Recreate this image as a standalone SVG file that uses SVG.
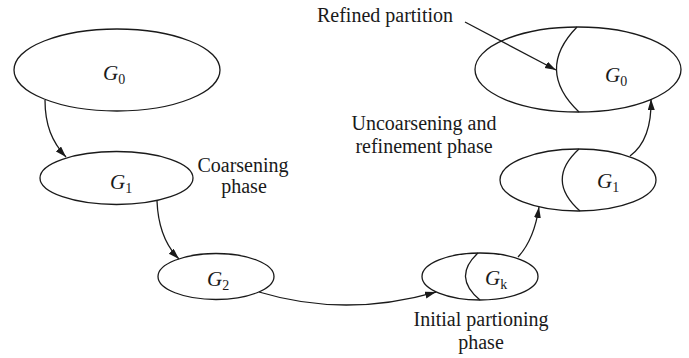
<svg xmlns="http://www.w3.org/2000/svg" width="689" height="358" viewBox="0 0 689 358">
<style>
.n{fill:none;stroke:#1a1a1a;stroke-width:1.3}
.c{fill:none;stroke:#1a1a1a;stroke-width:1.3}
.t{font-family:"Liberation Serif","Times New Roman",serif;font-size:20px;fill:#1a1a1a;text-anchor:middle}
.g{font-family:"Liberation Serif","Times New Roman",serif;font-size:21px;fill:#1a1a1a}
.g .i{font-style:italic}
.g .s{font-size:14px}
</style>
<defs>
<marker id="ah" markerUnits="userSpaceOnUse" markerWidth="12" markerHeight="8" refX="11" refY="3.5" orient="auto">
<path d="M0,0 L11,3.5 L0,7 Z" fill="#1a1a1a"/>
</marker>
</defs>
<rect width="689" height="358" fill="#fff"/>
<g id="left-G0">
<ellipse class="n" cx="117" cy="70" rx="103" ry="41"/>
<text class="g" x="103" y="80"><tspan class="i">G</tspan><tspan class="s" dy="4">0</tspan></text>
</g>
<g id="left-G1">
<ellipse class="n" cx="116.5" cy="178" rx="76.5" ry="26.5"/>
<text class="g" x="110" y="189"><tspan class="i">G</tspan><tspan class="s" dy="4">1</tspan></text>
</g>
<g id="G2">
<ellipse class="n" cx="216" cy="276.5" rx="58" ry="23"/>
<text class="g" x="207" y="286"><tspan class="i">G</tspan><tspan class="s" dy="4">2</tspan></text>
</g>
<g id="Gk">
<ellipse class="n" cx="480" cy="276.5" rx="58" ry="23.5"/>
<path class="n" d="M478,253 Q452,277 480,300"/>
<text class="g" x="485" y="285"><tspan class="i">G</tspan><tspan class="s" dy="4">k</tspan></text>
</g>
<g id="right-G1">
<ellipse class="n" cx="578" cy="180" rx="78" ry="31"/>
<path class="n" d="M579,149 Q545,180 580,211"/>
<text class="g" x="597" y="188"><tspan class="i">G</tspan><tspan class="s" dy="4">1</tspan></text>
</g>
<g id="right-G0">
<ellipse class="n" cx="578" cy="69.5" rx="103" ry="42.5"/>
<path class="n" d="M577,27 Q535,70 579,112"/>
<text class="g" x="605" y="82"><tspan class="i">G</tspan><tspan class="s" dy="4">0</tspan></text>
</g>
<g id="labels">
<text class="t" x="385" y="22">Refined partition</text>
<text class="t" x="243" y="172">Coarsening</text>
<text class="t" x="244" y="193">phase</text>
<text class="t" x="424" y="130">Uncoarsening and</text>
<text class="t" x="424" y="153">refinement phase</text>
<text class="t" x="481" y="326">Initial partioning</text>
<text class="t" x="481" y="349">phase</text>
</g>
<g id="connectors">
<path class="c" marker-end="url(#ah)" d="M45,100 C45,125 52,142 66,157"/>
<path class="c" marker-end="url(#ah)" d="M157,201 C158,226 165,245 179,259"/>
<path class="c" marker-end="url(#ah)" d="M259,292 Q345,318 436,292"/>
<path class="c" marker-end="url(#ah)" d="M518,257 Q534,240 539,207"/>
<path class="c" marker-end="url(#ah)" d="M630,156 Q652,140 651,99"/>
<path class="c" marker-end="url(#ah)" d="M465,22 L556,70"/>
</g>
</svg>
